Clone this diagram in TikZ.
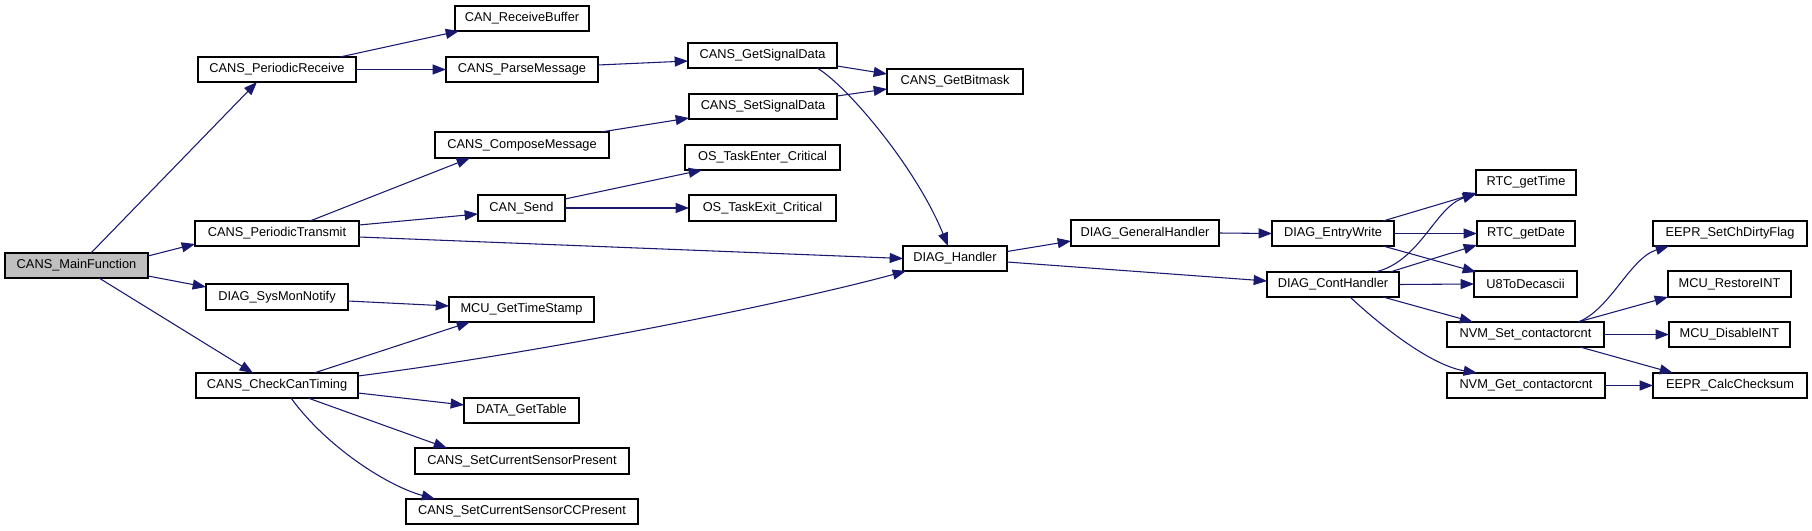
\documentclass[tikz,border=0pt]{standalone}
\usepackage{fontspec}
\setmainfont{Liberation Sans}
\usetikzlibrary{arrows.meta,calc}
\definecolor{edgec}{RGB}{25,25,112}
\definecolor{mainfill}{RGB}{191,191,191}
\tikzset{
  box/.style={draw=black, fill=white, line width=0.8pt, rectangle, inner sep=0pt, outer sep=0pt,
    font=\fontsize{9.6}{11}\selectfont},
  edge/.style={draw=edgec, line width=0.8pt, -{Triangle[length=10pt,width=7.5pt]}, fill=none},
}
\newcommand{\bx}[7][]{\node[box,#1,minimum width={(#5-#3)*0.75pt},minimum height={(#6-#4)*0.75pt}] (#2) at ({(#3+#5)/2},{(#4+#6)/2}) {#7};}
\begin{document}
\begin{tikzpicture}[x=0.75pt,y=-0.75pt]
\fill[white] (0,0) rectangle (1812,531);
\useasboundingbox (0,0) rectangle (1812,531);
% nodes
\bx[fill=mainfill]{main}{5}{253}{148}{278}{CANS\_MainFunction}
\bx{prx}{198}{57}{356}{82}{CANS\_PeriodicReceive}
\bx{ptx}{195}{221}{359}{246}{CANS\_PeriodicTransmit}
\bx{smn}{206}{284}{348}{310}{DIAG\_SysMonNotify}
\bx{cct}{196}{373}{358}{398}{CANS\_CheckCanTiming}
\bx{rbuf}{455}{6}{589}{31}{CAN\_ReceiveBuffer}
\bx{pmsg}{446}{57}{598}{82}{CANS\_ParseMessage}
\bx{cmsg}{435}{132}{609}{158}{CANS\_ComposeMessage}
\bx{send}{478}{195}{565}{221}{CAN\_Send}
\bx{mts}{449}{297}{594}{322}{MCU\_GetTimeStamp}
\bx{dgt}{464}{398}{579}{423}{DATA\_GetTable}
\bx{scsp}{415}{448}{629}{474}{CANS\_SetCurrentSensorPresent}
\bx{sccp}{406}{499}{638}{524}{CANS\_SetCurrentSensorCCPresent}
\bx{gsd}{688}{43}{837}{68}{CANS\_GetSignalData}
\bx{ssd}{689}{94}{837}{119}{CANS\_SetSignalData}
\bx{ose}{685}{145}{840}{170}{OS\_TaskEnter\_Critical}
\bx{osx}{689}{195}{836}{221}{OS\_TaskExit\_Critical}
\bx{gbm}{887}{69}{1023}{94}{CANS\_GetBitmask}
\bx{dh}{903}{246}{1007}{271}{DIAG\_Handler}
\bx{dgh}{1071}{220}{1219}{246}{DIAG\_GeneralHandler}
\bx{dew}{1272}{221}{1394}{246}{DIAG\_EntryWrite}
\bx{dch}{1267}{272}{1399}{297}{DIAG\_ContHandler}
\bx{rtt}{1476}{170}{1576}{195}{RTC\_getTime}
\bx{rtd}{1477}{221}{1575}{246}{RTC\_getDate}
\bx{u8}{1474}{271}{1577}{297}{U8ToDecascii}
\bx{nset}{1447}{322}{1604}{347}{NVM\_Set\_contactorcnt}
\bx{nget}{1447}{373}{1605}{398}{NVM\_Get\_contactorcnt}
\bx{eds}{1653}{221}{1807}{246}{EEPR\_SetChDirtyFlag}
\bx{mri}{1668}{271}{1791}{297}{MCU\_RestoreINT}
\bx{mdi}{1669}{322}{1790}{347}{MCU\_DisableINT}
\bx{ecc}{1653}{373}{1807}{398}{EEPR\_CalcChecksum}
% edges
\draw[edge] ($(main.north west)+(86,0)$) -- ($(prx.south west)+(59,0)$);
\draw[edge] ($(main.north east)+(0,3)$) -- ($(ptx.south west)+(0,-2)$);
\draw[edge] ($(main.south east)+(0,-2)$) -- ($(smn.north west)+(0,3)$);
\draw[edge] ($(main.south west)+(94,0)$) -- ($(cct.north west)+(57,0)$);
\draw[edge] ($(prx.north west)+(142,0)$) -- ($(rbuf.south west)+(4,0)$);
\draw[edge] (prx.east) -- (pmsg.west);
\draw[edge] ($(pmsg.east)+(0,-4.5)$) -- ($(gsd.west)+(0,5.5)$);
\draw[edge] ($(ptx.north west)+(115,0)$) -- ($(cmsg.south west)+(35,0)$);
\draw[edge] ($(ptx.north east)+(0,4)$) -- ($(send.west)+(0,6)$);
\draw[edge] ($(ptx.east)+(0,3.5)$) -- (dh.west);
\draw[edge] ($(send.north east)+(0,4)$) -- ($(ose.south west)+(17,0)$);
\draw[edge] (send.east) -- (osx.west);
\draw[edge] ($(cmsg.north east)+(-8,0)$) -- ($(ssd.south west)+(0,-1)$);
\draw[edge] ($(gsd.east)+(0,10.5)$) -- ($(gbm.west)+(0,-7.5)$);
\draw[edge] ($(ssd.north east)+(0,2)$) -- ($(gbm.west)+(0,7.5)$);
\draw[edge] ($(gsd.south west)+(129,0)$) .. controls (845,84) and (915,165) .. ($(dh.north west)+(45,0)$);
\draw[edge] ($(smn.east)+(0,4)$) -- ($(mts.west)+(0,-3.5)$);
\draw[edge] ($(cct.north west)+(118,0)$) -- ($(mts.south west)+(21,0)$);
\draw[edge] ($(cct.north east)+(0,3)$) .. controls (560,350) and (800,300) .. ($(dh.south west)+(3,0)$);
\draw[edge] ($(cct.east)+(0,7.5)$) -- ($(dgt.west)+(0,-5.5)$);
\draw[edge] ($(cct.south west)+(112,0)$) -- ($(scsp.north west)+(32,0)$);
\draw[edge] ($(cct.south west)+(95,0)$) .. controls (325,445) and (385,485) .. ($(sccp.north west)+(29,0)$);
\draw[edge] ($(dh.east)+(0,-7)$) -- ($(dgh.west)+(0,8)$);
\draw[edge] ($(dh.east)+(0,3.5)$) -- ($(dch.west)+(0,-3.5)$);
\draw[edge] (dgh.east) -- (dew.west);
\draw[edge] ($(dew.north west)+(111,0)$) -- ($(rtt.south west)+(1,-2)$);
\draw[edge] (dew.east) -- (rtd.west);
\draw[edge] ($(dew.south west)+(111,0)$) -- ($(u8.north west)+(2,1)$);
\draw[edge] ($(dch.north west)+(108,0)$) .. controls (1420,262) and (1435,207) .. ($(rtt.south west)+(0,-1)$);
\draw[edge] ($(dch.north east)+(-9,0)$) -- ($(rtd.south west)+(0,-1)$);
\draw[edge] (dch.east) -- (u8.west);
\draw[edge] ($(dch.south west)+(116,0)$) -- ($(nset.north west)+(26,0)$);
\draw[edge] ($(dch.south west)+(83,0)$) .. controls (1380,325) and (1430,365) .. ($(nget.north west)+(30,0)$);
\draw[edge] ($(nset.north west)+(131,0)$) .. controls (1610,310) and (1630,258) .. ($(eds.south west)+(16,0)$);
\draw[edge] ($(nset.north west)+(131,0)$) -- (mri.south west);
\draw[edge] (nset.east) -- (mdi.west);
\draw[edge] ($(nset.south west)+(133,0)$) -- ($(ecc.north west)+(20,0)$);
\draw[edge] (nget.east) -- (ecc.west);
\end{tikzpicture}
\end{document}
